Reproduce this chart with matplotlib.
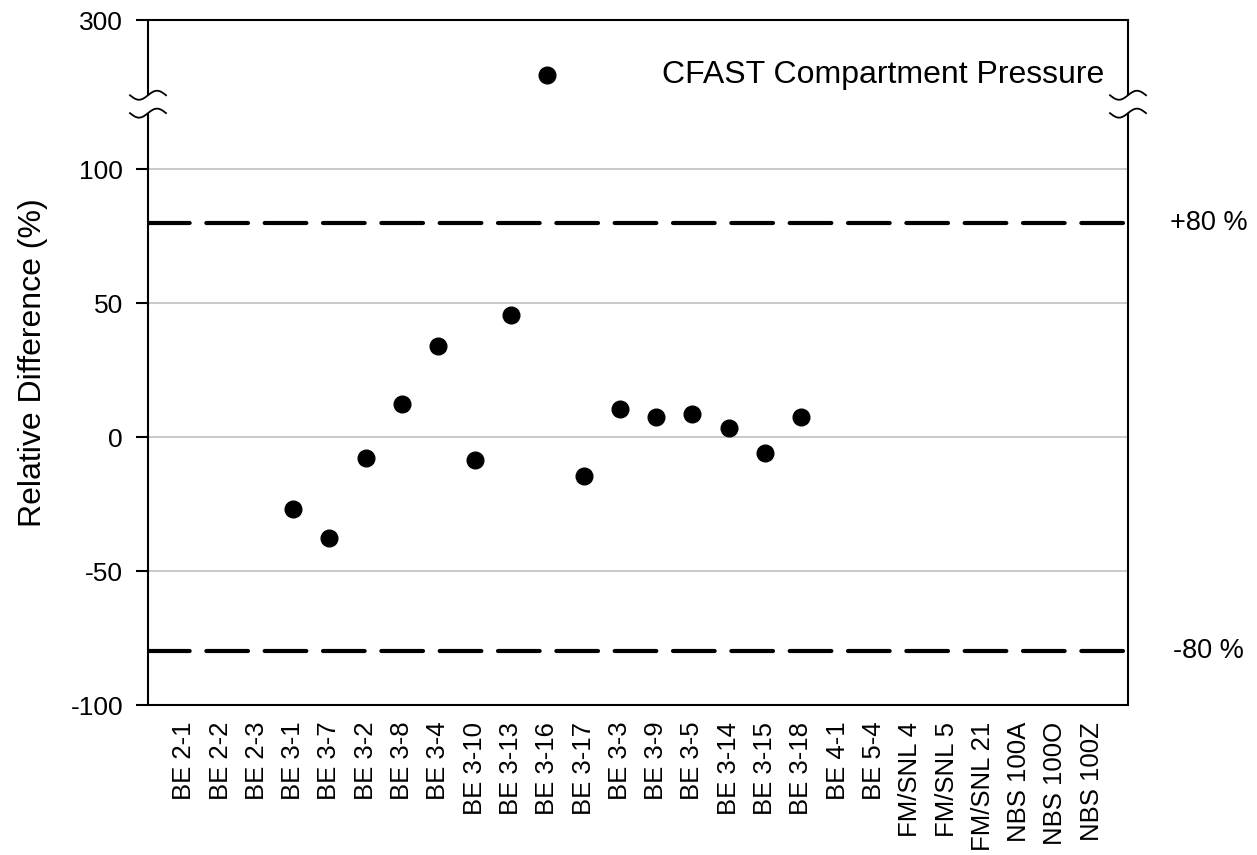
import numpy as np
import matplotlib.pyplot as plt
from matplotlib.lines import Line2D

plt.rcParams['font.family'] = ['Liberation Sans', 'DejaVu Sans']

tests = ["BE 2-1", "BE 2-2", "BE 2-3", "BE 3-1", "BE 3-7", "BE 3-2", "BE 3-8",
         "BE 3-4", "BE 3-10", "BE 3-13", "BE 3-16", "BE 3-17", "BE 3-3", "BE 3-9",
         "BE 3-5", "BE 3-14", "BE 3-15", "BE 3-18", "BE 4-1", "BE 5-4",
         "FM/SNL 4", "FM/SNL 5", "FM/SNL 21", "NBS 100A", "NBS 100O", "NBS 100Z"]
rel_diff = [np.nan, np.nan, np.nan, -27.0, -37.5, -8.0, 12.5, 34.0, -8.5, 45.5,
            226.0, -14.5, 10.5, 7.5, 8.5, 3.5, -6.0, 7.5, np.nan, np.nan,
            np.nan, np.nan, np.nan, np.nan, np.nan, np.nan]
bound = 80
y_ticks = [-100, -50, 0, 50, 100, 300]
grid_levels = [-50, 0, 50, 100]

# piecewise scale: linear up to 100, compressed above the break
nodes_val = np.array([-100.0, 100.0, 300.0])
nodes_pos = np.array([-100.0, 100.0, 155.6])


def fwd(v):
    return np.interp(v, nodes_val, nodes_pos, left=-100, right=155.6)


def inv(p):
    return np.interp(p, nodes_pos, nodes_val)


fig = plt.figure(figsize=(12.57, 8.55), dpi=100)
ax = fig.add_axes([148 / 1257, 150 / 855, 980 / 1257, 685 / 855])
ax.set_yscale('function', functions=(fwd, inv))
ax.set_ylim(-100, 300)
ax.set_xlim(0, len(tests) + 1)

x = np.arange(1, len(tests) + 1)

for g in grid_levels:
    ax.axhline(g, color='#c0c0c0', lw=1.2, zorder=1)
for b in (bound, -bound):
    ax.axhline(b, color='black', lw=3, dashes=(10, 4), dash_capstyle='round', zorder=2)

ax.plot(x, rel_diff, 'o', color='black', ms=12, zorder=3)

ax.set_yticks(y_ticks)
ax.set_yticklabels([str(t) for t in y_ticks])
ax.set_xticks(x)
ax.set_xticklabels(tests, rotation=90)
ax.tick_params(axis='y', direction='out', length=9, width=1.5, labelsize=19, pad=9)
ax.tick_params(axis='x', length=0, labelsize=18.5, pad=12)
ax.set_ylabel('Relative Difference (%)', fontsize=23, labelpad=16)

ax.text(0.976, 226, 'CFAST Compartment Pressure', transform=ax.get_yaxis_transform(),
        ha='right', va='center', fontsize=23)
for b, lab in ((bound, '+80 %'), (-bound, '-80 %')):
    ax.text(1.082, b, lab, transform=ax.get_yaxis_transform(),
            ha='center', va='center', fontsize=19.5)

# side spines drawn in two pieces with a gap for the axis break
brk_lo, brk_hi = 175, 199
for s in ('left', 'right'):
    ax.spines[s].set_visible(False)
for s in ('top', 'bottom'):
    ax.spines[s].set_linewidth(1.5)
ytr = ax.get_yaxis_transform()
for xs in (0, 1):
    ax.plot([xs, xs], [-100, brk_lo], color='black', lw=1.5, transform=ytr,
            clip_on=False, solid_capstyle='butt')
    ax.plot([xs, xs], [brk_hi, 300], color='black', lw=1.5, transform=ytr,
            clip_on=False, solid_capstyle='butt')

# wavy break marks, built in pixel space around each spine end
fig.canvas.draw()
t = np.linspace(-18, 18, 60)
wave = 4.5 * np.sin(np.pi * t / 18)
for xs in (0, 1):
    for yv in (brk_lo, brk_hi):
        px, py = ytr.transform((xs, yv))
        pts = np.column_stack([px + t, py + wave])
        fpts = fig.transFigure.inverted().transform(pts)
        fig.add_artist(Line2D(fpts[:, 0], fpts[:, 1], color='black', lw=1.3,
                              transform=fig.transFigure))

fig.savefig('out.png', dpi=100)
